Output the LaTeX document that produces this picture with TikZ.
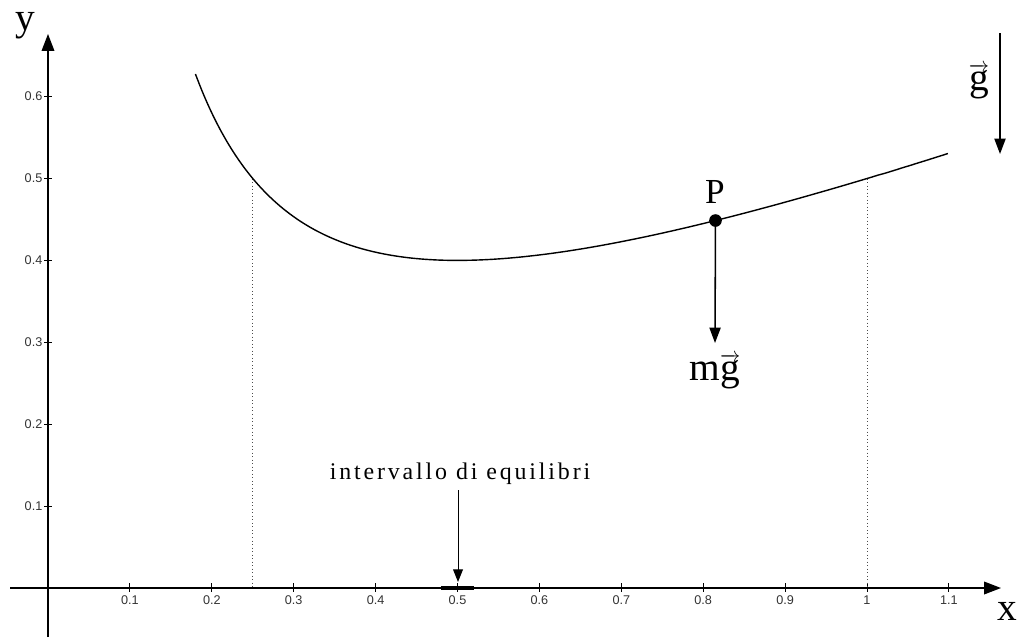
\documentclass[tikz,border=0pt]{standalone}
\usepackage{fontspec}
\setmainfont{Liberation Serif}
\setsansfont{Liberation Sans}
\newfontfamily\spacedserif[LetterSpace=12]{Liberation Serif}
\usetikzlibrary{arrows.meta}
\newcommand{\gvec}{{\fontsize{14}{16}\selectfont$\overrightarrow{\hbox{\fontsize{28}{30}\selectfont g}}$}}
\tikzset{
  axisline/.style={line width=0.9pt,-{Triangle[length=12,width=9]}},
  vecarrow/.style={line width=1.1pt,-{Triangle[length=11,width=8]}},
  ticklab/.style={font=\sffamily\fontsize{9}{10}\selectfont,text=black!80,inner sep=1pt},
  biglab/.style={font=\fontsize{28}{30}\selectfont,inner sep=0pt},
  guide/.style={dotted,line width=0.5pt,black!70},
  tickmark/.style={line width=0.7pt}
}
\begin{document}
\begin{tikzpicture}[x=0.25mm,y=-0.25mm]
\useasboundingbox (0,0) rectangle (1018,637);
% axes
\coordinate (xstart) at (10,588);
\coordinate (xend) at (1001,588);
\coordinate (ystart) at (48,637);
\coordinate (yend) at (48,34);
\draw[axisline] (xstart) -- (xend);
\draw[axisline] (ystart) -- (yend);
\node[biglab] (ylab) at (25,26) {y};
\node[biglab] (xlab) at (1007,611) {x};
% x ticks
\foreach \v/\t in {0.1/0.1,0.2/0.2,0.3/0.3,0.4/0.4,0.5/0.5,0.6/0.6,0.7/0.7,0.8/0.8,0.9/0.9,1/1,1.1/1.1}{
  \draw[tickmark] ({48+819*\v},583) -- ({48+819*\v},592);
  \node[ticklab] (xt\t) at ({48+819*\v},600) {\t};
}
% y ticks
\foreach \v in {0.1,0.2,0.3,0.4,0.5,0.6}{
  \draw[tickmark] (44,{588-819*\v}) -- (52,{588-819*\v});
  \node[ticklab,anchor=east] (yt\v) at (44,{588-819*\v}) {\v};
}
% dotted guides
\coordinate (da) at ({48+819*0.25},{588-819*0.5});
\coordinate (db) at ({48+819*0.25},588);
\coordinate (dc) at ({48+819*1},{588-819*0.5});
\coordinate (dd) at ({48+819*1},588);
\draw[guide] (da) -- (db);
\draw[guide] (dc) -- (dd);
% curve
\draw[line width=1pt] plot[domain=0.18:1.1,samples=120,smooth] ({48+819*\x},{588-819*(0.4*\x+0.1/\x)});
% point P
\node[circle,fill=black,inner sep=0pt,minimum size=9] (P) at ({48+819*0.815},{588-819*(0.4*0.815+0.1/0.815)}) {};
\node[biglab,font=\fontsize{25}{27}\selectfont] (Plab) at (715,192) {P};
\coordinate (mgtip) at (715,343);
\draw[vecarrow] (P.center) -- (mgtip);
\node[biglab,anchor=base] (mglab) at (715,380) {m\gvec};
% g vector
\coordinate (gtop) at (1000,33);
\coordinate (gtip) at (1000,154);
\draw[vecarrow] (gtop) -- (gtip);
\node[biglab,anchor=base] (glab) at (979,90) {\gvec};
% equilibrium interval
\coordinate (ia) at ({48+819*0.48},588);
\coordinate (ib) at ({48+819*0.52},588);
\draw[line width=2.8pt] (ia) -- (ib);
\node[font=\spacedserif\fontsize{17}{19}\selectfont,inner sep=0pt,anchor=base] (intlab) at (460,479) {intervallo di equilibri};
\coordinate (itip) at (458,582);
\draw[line width=0.7pt,-{Triangle[length=9,width=7]}] (458,490) -- (itip);
\end{tikzpicture}
\end{document}
